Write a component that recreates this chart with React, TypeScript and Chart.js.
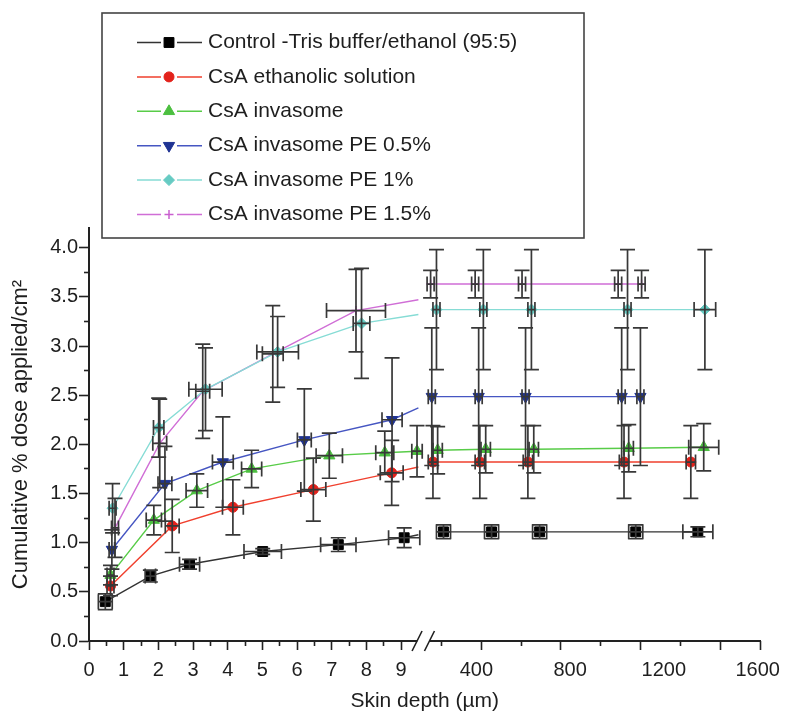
import React, { useEffect, useRef } from 'react';
import { Chart, registerables } from 'chart.js';

Chart.register(...registerables);

// ---------------- axis ticks ----------------
const DEPTH_LABELS = [0, 1, 2, 3, 4, 5, 6, 7, 8, 9];
const DEPTH_MINOR = [0.5, 1.5, 2.5, 3.5, 4.5, 5.5, 6.5, 7.5, 8.5];
const UM_LABELS = [400, 800, 1200, 1600];
const UM_MAJOR_MARKS = [421, 761, 1101, 1441, 1611];
const UM_MINOR_MARKS = [252, 591, 931, 1271];
const Y_LABELS = [0, 0.5, 1, 1.5, 2, 2.5, 3, 3.5, 4];
const Y_MINOR = [0.25, 0.75, 1.25, 1.75, 2.25, 2.75, 3.25, 3.75];
const Y_MAX = 4.2;

// broken x axis: 0–9 depth units, then µm
const BREAK_END_DEPTH = 9.5;
const BREAK_MARK = 9.64;
const SEG2_ORIGIN = 8.466;
const SEG2_PER_UM = 0.006761;
const umToX = (um: number) => SEG2_ORIGIN + um * SEG2_PER_UM;
const X_MAX = umToX(1612);

// ---------------- data ----------------
// Control -Tris buffer/ethanol (95:5)
const controlDepthX = [0.47, 1.77, 2.9, 5.01, 7.19, 9.09];
const controlDepthY = [0.4, 0.66, 0.78, 0.91, 0.98, 1.05];
const controlDepthXErr = [0.2, 0.15, 0.29, 0.54, 0.51, 0.45];
const controlDepthYErr = [0.08, 0.06, 0.05, 0.03, 0.07, 0.1];
const controlBreakY = 1.08;
const controlUm = [260, 465, 670, 1080, 1345];
const controlUmY = [1.11, 1.11, 1.11, 1.11, 1.11];
const controlUmXErr = [30, 30, 30, 30, 64];
const controlUmYErr = [0.07, 0.07, 0.07, 0.07, 0.05];

// CsA ethanolic solution
const ethDepthX = [0.62, 2.4, 4.15, 6.47, 8.73];
const ethDepthY = [0.56, 1.17, 1.36, 1.54, 1.71];
const ethDepthXErr = [0.1, 0.2, 0.3, 0.36, 0.33];
const ethDepthYErr = [0.1, 0.27, 0.28, 0.32, 0.33];
const ethBreakY = 1.77;
const ethUm = [215, 415, 620, 1030, 1315];
const ethUmY = [1.82, 1.82, 1.82, 1.82, 1.82];
const ethUmXErr = [20, 20, 20, 20, 20];
const ethUmYErr = [0.37, 0.37, 0.37, 0.37, 0.37];

// CsA invasome
const invDepthX = [0.62, 1.87, 3.11, 4.69, 6.93, 8.53, 9.46];
const invDepthY = [0.67, 1.23, 1.53, 1.75, 1.885, 1.915, 1.93];
const invDepthXErr = [0.1, 0.22, 0.31, 0.29, 0.38, 0.26, 0.15];
const invDepthYErr = [0.1, 0.15, 0.17, 0.19, 0.23, 0.22, 0.26];
const invUm = [235, 440, 645, 1050, 1370];
const invUmY = [1.94, 1.95, 1.95, 1.96, 1.97];
const invUmXErr = [20, 20, 20, 20, 64];
const invUmYErr = [0.24, 0.24, 0.24, 0.24, 0.24];

// CsA invasome PE 0.5%
const pe05DepthX = [0.66, 2.19, 3.86, 6.21, 8.74];
const pe05DepthY = [0.93, 1.6, 1.82, 2.045, 2.25];
const pe05DepthXErr = [0.08, 0.2, 0.3, 0.2, 0.29];
const pe05DepthYErr = [0.2, 0.38, 0.46, 0.52, 0.63];
const pe05BreakY = 2.37;
const pe05Um = [210, 410, 610, 1020, 1100];
const pe05UmY = [2.485, 2.485, 2.485, 2.485, 2.485];
const pe05UmXErr = [15, 15, 15, 15, 15];
const pe05UmYErr = [0.7, 0.7, 0.7, 0.7, 0.7];

// CsA invasome PE 1%
const pe1DepthX = [0.68, 2.01, 3.36, 5.44, 7.86];
const pe1DepthY = [1.35, 2.17, 2.56, 2.94, 3.23];
const pe1DepthXErr = [0.1, 0.15, 0.48, 0.6, 0.24];
const pe1DepthYErr = [0.25, 0.3, 0.42, 0.36, 0.56];
const pe1BreakY = 3.32;
const pe1Um = [230, 430, 635, 1045, 1375];
const pe1UmY = [3.37, 3.37, 3.37, 3.37, 3.37];
const pe1UmXErr = [15, 15, 15, 15, 46];
const pe1UmYErr = [0.61, 0.61, 0.61, 0.61, 0.61];

// CsA invasome PE 1.5%
const pe15DepthX = [0.75, 2.04, 3.28, 5.3, 7.7];
const pe15DepthY = [1.15, 2.01, 2.54, 2.92, 3.36];
const pe15DepthXErr = [0.1, 0.2, 0.2, 0.3, 0.85];
const pe15DepthYErr = [0.3, 0.45, 0.48, 0.49, 0.42];
const pe15BreakY = 3.47;
const pe15Um = [205, 395, 595, 1005, 1105];
const pe15UmY = [3.63, 3.63, 3.63, 3.63, 3.63];
const pe15UmXErr = [15, 15, 15, 15, 15];
const pe15UmYErr = [0.14, 0.14, 0.14, 0.14, 0.14];

const FONT = '"Liberation Sans", Arial, Helvetica, sans-serif';
const TEXT = '#1e1e1e';
const AXIS = '#222222';
const ERR = '#383838';

type Series = {
  label: string;
  line: string;
  marker: string;
  style: string;
  rotation: number;
  radius: number;
  border: number;
  dX: number[]; dY: number[]; dXE: number[]; dYE: number[];
  breakY: number | null;
  uX: number[]; uY: number[]; uXE: number[]; uYE: number[];
};

const SERIES: Series[] = [
  { label: 'Control -Tris buffer/ethanol (95:5)', line: '#333333', marker: '#000000', style: 'rect', rotation: 0, radius: 7, border: 1,
    dX: controlDepthX, dY: controlDepthY, dXE: controlDepthXErr, dYE: controlDepthYErr, breakY: controlBreakY,
    uX: controlUm, uY: controlUmY, uXE: controlUmXErr, uYE: controlUmYErr },
  { label: 'CsA ethanolic solution', line: '#f0402e', marker: '#e3221b', style: 'circle', rotation: 0, radius: 5, border: 1,
    dX: ethDepthX, dY: ethDepthY, dXE: ethDepthXErr, dYE: ethDepthYErr, breakY: ethBreakY,
    uX: ethUm, uY: ethUmY, uXE: ethUmXErr, uYE: ethUmYErr },
  { label: 'CsA invasome', line: '#58cc48', marker: '#4cbf40', style: 'triangle', rotation: 0, radius: 6.5, border: 1,
    dX: invDepthX, dY: invDepthY, dXE: invDepthXErr, dYE: invDepthYErr, breakY: null,
    uX: invUm, uY: invUmY, uXE: invUmXErr, uYE: invUmYErr },
  { label: 'CsA invasome PE 0.5%', line: '#4656c2', marker: '#1f3393', style: 'triangle', rotation: 180, radius: 6.5, border: 1,
    dX: pe05DepthX, dY: pe05DepthY, dXE: pe05DepthXErr, dYE: pe05DepthYErr, breakY: pe05BreakY,
    uX: pe05Um, uY: pe05UmY, uXE: pe05UmXErr, uYE: pe05UmYErr },
  { label: 'CsA invasome PE 1%', line: '#86dcd5', marker: '#66cbc3', style: 'rectRot', rotation: 0, radius: 5.5, border: 1,
    dX: pe1DepthX, dY: pe1DepthY, dXE: pe1DepthXErr, dYE: pe1DepthYErr, breakY: pe1BreakY,
    uX: pe1Um, uY: pe1UmY, uXE: pe1UmXErr, uYE: pe1UmYErr },
  { label: 'CsA invasome PE 1.5%', line: '#d06ed6', marker: '#c95fcf', style: 'cross', rotation: 0, radius: 4.5, border: 1.5,
    dX: pe15DepthX, dY: pe15DepthY, dXE: pe15DepthXErr, dYE: pe15DepthYErr, breakY: pe15BreakY,
    uX: pe15Um, uY: pe15UmY, uXE: pe15UmXErr, uYE: pe15UmYErr },
];

function buildDataset(s: Series) {
  const pts: any[] = [];
  const errs: any[] = [];
  s.dX.forEach((x, i) => {
    pts.push({ x, y: s.dY[i] });
    errs.push({ ex: s.dXE[i], ey: s.dYE[i] });
  });
  if (s.breakY != null) {
    pts.push({ x: BREAK_END_DEPTH, y: s.breakY, hide: true });
    errs.push(null);
  }
  pts.push({ x: BREAK_MARK, y: null });
  errs.push(null);
  s.uX.forEach((um, i) => {
    pts.push({ x: umToX(um), y: s.uY[i] });
    errs.push({ ex: s.uXE[i] * SEG2_PER_UM, ey: s.uYE[i] });
  });
  return {
    label: s.label,
    data: pts,
    errs,
    legendStyle: s,
    showLine: true,
    spanGaps: false,
    tension: 0,
    borderColor: s.line,
    borderWidth: 1.4,
    pointStyle: s.style,
    pointRotation: s.rotation,
    pointBackgroundColor: s.marker,
    pointBorderColor: s.marker,
    pointBorderWidth: s.border,
    pointRadius: (c: any) => (c.raw && c.raw.hide ? 0 : s.radius),
    pointHoverRadius: 0,
  };
}

const CAP = 7.5;

const errorBarPlugin = {
  id: 'errorBars',
  afterDatasetsDraw(chart: any) {
    const { ctx } = chart;
    const xs = chart.scales.x;
    const ys = chart.scales.y;
    ctx.save();
    ctx.strokeStyle = ERR;
    ctx.lineWidth = 1.7;
    chart.data.datasets.forEach((ds: any) => {
      ds.data.forEach((p: any, i: number) => {
        const e = ds.errs[i];
        if (p.y == null || !e) return;
        const px = xs.getPixelForValue(p.x);
        const py = ys.getPixelForValue(p.y);
        ctx.beginPath();
        if (e.ey) {
          const y1 = ys.getPixelForValue(p.y + e.ey);
          const y2 = ys.getPixelForValue(p.y - e.ey);
          ctx.moveTo(px, y1); ctx.lineTo(px, y2);
          ctx.moveTo(px - CAP, y1); ctx.lineTo(px + CAP, y1);
          ctx.moveTo(px - CAP, y2); ctx.lineTo(px + CAP, y2);
        }
        if (e.ex) {
          const x1 = xs.getPixelForValue(p.x - e.ex);
          const x2 = xs.getPixelForValue(p.x + e.ex);
          ctx.moveTo(x1, py); ctx.lineTo(x2, py);
          ctx.moveTo(x1, py - CAP); ctx.lineTo(x1, py + CAP);
          ctx.moveTo(x2, py - CAP); ctx.lineTo(x2, py + CAP);
        }
        ctx.stroke();
      });
    });
    ctx.restore();
  },
};

const axisBreakPlugin = {
  id: 'axisBreak',
  afterDraw(chart: any) {
    const { ctx } = chart;
    const xs = chart.scales.x;
    const cx = xs.getPixelForValue(BREAK_MARK);
    const y = chart.chartArea.bottom;
    ctx.save();
    ctx.fillStyle = '#ffffff';
    ctx.fillRect(cx - 6, y - 3, 12, 6);
    ctx.strokeStyle = AXIS;
    ctx.lineWidth = 1.6;
    ctx.beginPath();
    [-6.2, 6.2].forEach((d) => {
      ctx.moveTo(cx + d - 5, y + 10);
      ctx.lineTo(cx + d + 5, y - 10);
    });
    ctx.stroke();
    ctx.restore();
  },
};

function drawMarker(ctx: CanvasRenderingContext2D, s: Series, x: number, y: number) {
  const r = s.radius;
  ctx.fillStyle = s.marker;
  ctx.strokeStyle = s.marker;
  ctx.lineWidth = s.border;
  ctx.beginPath();
  if (s.style === 'rect') {
    const h = r * Math.SQRT1_2;
    ctx.rect(x - h, y - h, 2 * h, 2 * h);
  } else if (s.style === 'circle') {
    ctx.arc(x, y, r, 0, Math.PI * 2);
  } else if (s.style === 'triangle') {
    const dir = s.rotation === 180 ? -1 : 1;
    const a = Math.PI * 2 / 3;
    for (let k = 0; k < 3; k++) {
      const ang = k * a;
      const px = x + Math.sin(ang) * r;
      const py = y - dir * Math.cos(ang) * r;
      if (k === 0) ctx.moveTo(px, py); else ctx.lineTo(px, py);
    }
    ctx.closePath();
  } else if (s.style === 'rectRot') {
    ctx.moveTo(x, y - r); ctx.lineTo(x + r, y); ctx.lineTo(x, y + r); ctx.lineTo(x - r, y); ctx.closePath();
  } else if (s.style === 'cross') {
    ctx.moveTo(x - r, y); ctx.lineTo(x + r, y); ctx.moveTo(x, y - r); ctx.lineTo(x, y + r);
    ctx.stroke();
    return;
  }
  ctx.fill();
  ctx.stroke();
}

const LEG_BOX = { l: 102, t: 13, r: 584, b: 238 };
const LEG_ROW0 = 42.5;
const LEG_ROW_H = 34.4;

const boxLegendPlugin = {
  id: 'boxLegend',
  afterDraw(chart: any) {
    const { ctx } = chart;
    ctx.save();
    ctx.fillStyle = '#ffffff';
    ctx.fillRect(LEG_BOX.l, LEG_BOX.t, LEG_BOX.r - LEG_BOX.l, LEG_BOX.b - LEG_BOX.t);
    ctx.strokeStyle = '#444444';
    ctx.lineWidth = 1.6;
    ctx.strokeRect(LEG_BOX.l, LEG_BOX.t, LEG_BOX.r - LEG_BOX.l, LEG_BOX.b - LEG_BOX.t);
    chart.data.datasets.forEach((ds: any, i: number) => {
      const s: Series = ds.legendStyle;
      const y = LEG_ROW0 + i * LEG_ROW_H;
      ctx.strokeStyle = s.line;
      ctx.lineWidth = 1.5;
      ctx.beginPath();
      ctx.moveTo(137, y); ctx.lineTo(161, y);
      ctx.moveTo(177, y); ctx.lineTo(202, y);
      ctx.stroke();
      drawMarker(ctx, s, 169, y);
      ctx.fillStyle = TEXT;
      ctx.font = `21px ${FONT}`;
      ctx.textAlign = 'left';
      ctx.textBaseline = 'middle';
      ctx.fillText(ds.label, 208, y);
    });
    ctx.restore();
  },
};

const X_LABEL_VALUES = [...DEPTH_LABELS, ...UM_LABELS.map(umToX)];
const X_LABEL_TEXT = [...DEPTH_LABELS.map(String), ...UM_LABELS.map(String)];
const X_MAJOR_MARKS = UM_MAJOR_MARKS.map(umToX);
const X_MINOR_MARKS = [...DEPTH_MINOR, ...UM_MINOR_MARKS.map(umToX)];

function markAxis(values: number[], length: number, weight: number, horizontal: boolean) {
  const base: any = {
    type: 'linear',
    position: horizontal ? 'bottom' : 'left',
    weight,
    min: 0,
    max: horizontal ? X_MAX : Y_MAX,
    afterBuildTicks: (s: any) => { s.ticks = values.map((v) => ({ value: v })); },
    afterFit: (s: any) => { if (horizontal) s.height = 0; else s.width = 0; },
    ticks: { display: false, autoSkip: false },
    grid: { drawOnChartArea: false, drawTicks: true, tickLength: length, tickColor: AXIS, tickWidth: 1.6 },
    border: { display: false },
  };
  return base;
}

export default function App() {
  const ref = useRef<HTMLCanvasElement | null>(null);
  useEffect(() => {
    if (!ref.current) return;
    const chart = new Chart(ref.current, {
      type: 'scatter',
      data: { datasets: SERIES.map(buildDataset) as any },
      options: {
        responsive: false,
        animation: false,
        devicePixelRatio: 1,
        events: [],
        layout: { padding: { top: 228, right: 25, bottom: 0, left: 0 } },
        plugins: { legend: { display: false }, tooltip: { enabled: false } },
        scales: {
          x: {
            type: 'linear',
            position: 'bottom',
            weight: 3,
            min: 0,
            max: X_MAX,
            afterBuildTicks: (s: any) => { s.ticks = X_LABEL_VALUES.map((v) => ({ value: v })); },
            afterFit: (s: any) => { s.height = 76; },
            ticks: {
              autoSkip: false,
              maxRotation: 0,
              minRotation: 0,
              padding: 8,
              color: TEXT,
              font: { family: FONT, size: 20 },
              callback: (_v: any, i: number) => X_LABEL_TEXT[i],
            },
            grid: {
              drawOnChartArea: false,
              drawTicks: true,
              tickLength: 9,
              tickWidth: 1.6,
              tickColor: (c: any) => (c.index >= DEPTH_LABELS.length ? 'rgba(0,0,0,0)' : AXIS),
            },
            border: { display: true, color: AXIS, width: 2 },
            title: {
              display: true,
              text: 'Skin depth (µm)',
              color: TEXT,
              font: { family: FONT, size: 21 },
              padding: { top: 0, bottom: 3 },
            },
          },
          xMajor: markAxis(X_MAJOR_MARKS, 9, 1, true),
          xMinor: markAxis(X_MINOR_MARKS, 5, 0, true),
          y: {
            type: 'linear',
            position: 'left',
            weight: 3,
            min: 0,
            max: Y_MAX,
            afterBuildTicks: (s: any) => { s.ticks = Y_LABELS.map((v) => ({ value: v })); },
            afterFit: (s: any) => { s.width = 89; },
            ticks: {
              autoSkip: false,
              padding: 1,
              color: TEXT,
              font: { family: FONT, size: 20 },
              callback: (v: any) => Number(v).toFixed(1),
            },
            grid: { drawOnChartArea: false, drawTicks: true, tickLength: 10, tickWidth: 1.6, tickColor: AXIS },
            border: { display: true, color: AXIS, width: 2 },
            title: {
              display: true,
              text: 'Cumulative % dose applied/cm²',
              color: TEXT,
              font: { family: FONT, size: 22 },
              padding: { top: 8, bottom: 0 },
            },
          },
          yMinor: markAxis(Y_MINOR, 5, 0, false),
        } as any,
      },
      plugins: [errorBarPlugin, axisBreakPlugin, boxLegendPlugin],
    });
    return () => chart.destroy();
  }, []);
  return (
    <div style={{ position: 'absolute', left: 0, top: 0, width: 788, height: 717, background: '#ffffff' }}>
      <canvas ref={ref} width={788} height={717} style={{ display: 'block' }} />
    </div>
  );
}
